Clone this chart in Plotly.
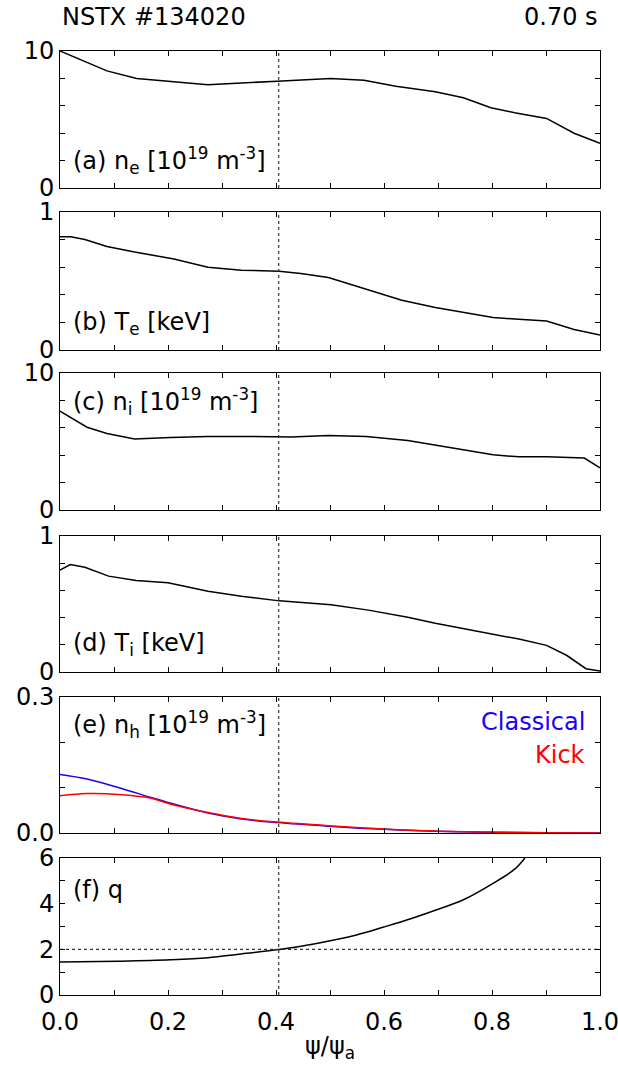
import plotly.graph_objects as go

# ---------------- data ----------------
ne_x = [0.0, 0.087, 0.142, 0.204, 0.274, 0.402, 0.501, 0.563, 0.622, 0.695, 0.747, 0.798, 0.842, 0.901, 0.952, 1.0]
ne_y = [10.0, 8.55, 7.99, 7.75, 7.53, 7.80, 7.99, 7.87, 7.43, 7.02, 6.59, 5.86, 5.50, 5.08, 4.0, 3.27]

te_x = [0.0, 0.02, 0.046, 0.087, 0.138, 0.211, 0.274, 0.336, 0.406, 0.446, 0.497, 0.563, 0.633, 0.695, 0.754, 0.802, 0.842, 0.901, 0.952, 1.0]
te_y = [0.82, 0.82, 0.80, 0.75, 0.71, 0.66, 0.60, 0.578, 0.571, 0.554, 0.525, 0.446, 0.361, 0.308, 0.270, 0.236, 0.224, 0.210, 0.149, 0.108]

ni_x = [0.0, 0.02, 0.05, 0.087, 0.138, 0.204, 0.274, 0.358, 0.428, 0.497, 0.567, 0.644, 0.695, 0.747, 0.802, 0.850, 0.901, 0.971, 1.0]
ni_y = [7.21, 6.72, 6.04, 5.58, 5.19, 5.29, 5.36, 5.36, 5.32, 5.44, 5.36, 5.07, 4.73, 4.42, 4.03, 3.88, 3.88, 3.79, 3.08]

ti_x = [0.0, 0.019, 0.046, 0.090, 0.141, 0.200, 0.274, 0.336, 0.406, 0.502, 0.571, 0.644, 0.695, 0.750, 0.802, 0.850, 0.901, 0.938, 0.974, 1.0]
ti_y = [0.75, 0.79, 0.77, 0.705, 0.673, 0.656, 0.593, 0.557, 0.523, 0.494, 0.455, 0.402, 0.358, 0.315, 0.278, 0.242, 0.196, 0.123, 0.024, 0.007]

nh_x = [0.0, 0.05, 0.109, 0.167, 0.204, 0.274, 0.336, 0.402, 0.497, 0.6, 0.695, 0.798, 0.9, 1.0]
nh_classical = [0.129, 0.119, 0.100, 0.079, 0.066, 0.044, 0.031, 0.023, 0.015, 0.008, 0.004, 0.0015, 0.0007, 0.0]
nh_kick = [0.082, 0.087, 0.085, 0.077, 0.064, 0.045, 0.032, 0.024, 0.016, 0.009, 0.0045, 0.002, 0.0008, 0.0]

q_x = [0.0, 0.109, 0.204, 0.274, 0.336, 0.406, 0.475, 0.549, 0.6, 0.651, 0.695, 0.747, 0.802, 0.842, 0.861]
q_y = [1.44, 1.48, 1.54, 1.63, 1.80, 1.99, 2.26, 2.63, 2.98, 3.35, 3.71, 4.17, 4.89, 5.51, 6.0]

q2_psi = 0.405      # location of q = 2 surface
q2_value = 2.0

x_tick_vals = [0.0, 0.1, 0.2, 0.3, 0.4, 0.5, 0.6, 0.7, 0.8, 0.9, 1.0]
x_tick_text = ["0.0", "", "0.2", "", "0.4", "", "0.6", "", "0.8", "", "1.0"]

panel_labels = [
    "(a) n<sub>e</sub> [10<sup>19</sup> m<sup>-3</sup>]",
    "(b) T<sub>e</sub> [keV]",
    "(c) n<sub>i</sub> [10<sup>19</sup> m<sup>-3</sup>]",
    "(d) T<sub>i</sub> [keV]",
    "(e) n<sub>h</sub> [10<sup>19</sup> m<sup>-3</sup>]",
    "(f) q",
]
label_ypos = [0.2, 0.19, 0.79, 0.2, 0.8, 0.77]

y_ranges = [[0, 10], [0, 1], [0, 10], [0, 1], [0, 0.3], [0, 6]]
y_tickvals = [
    [0, 2, 4, 6, 8, 10],
    [0, 0.2, 0.4, 0.6, 0.8, 1.0],
    [0, 2, 4, 6, 8, 10],
    [0, 0.2, 0.4, 0.6, 0.8, 1.0],
    [0, 0.1, 0.2, 0.3],
    [0, 1, 2, 3, 4, 5, 6],
]
y_ticktext = [
    ["0", "", "", "", "", "10"],
    ["0", "", "", "", "", "1"],
    ["0", "", "", "", "", "10"],
    ["0", "", "", "", "", "1"],
    ["0.0", "", "", "0.3"],
    ["0", "", "2", "", "4", "", "6"],
]

# ---------------- layout geometry ----------------
W, H = 618, 1071
ML, MR, MT, MB = 60, 18, 51, 76
plot_h = H - MT - MB
panel_px = [(51, 188), (212, 350), (373, 510), (536, 672), (697, 833), (858, 995)]
domains = [[(H - MB - b) / plot_h, (H - MB - t) / plot_h] for t, b in panel_px]

FONT = "DejaVu Sans, Liberation Sans, Arial, sans-serif"
FS = 24

fig = go.Figure()

series = [(ne_x, ne_y), (te_x, te_y), (ni_x, ni_y), (ti_x, ti_y)]
for i, (xs, ys) in enumerate(series):
    sfx = "" if i == 0 else str(i + 1)
    fig.add_trace(go.Scatter(x=xs, y=ys, mode="lines", line=dict(color="black", width=1.5),
                             xaxis="x" + sfx, yaxis="y" + sfx, showlegend=False))

fig.add_trace(go.Scatter(x=nh_x, y=nh_classical, mode="lines", line=dict(color="#1a00ff", width=1.5, shape="spline"),
                         xaxis="x5", yaxis="y5", showlegend=False))
fig.add_trace(go.Scatter(x=nh_x, y=nh_kick, mode="lines", line=dict(color="#ff0000", width=1.5, shape="spline"),
                         xaxis="x5", yaxis="y5", showlegend=False))
fig.add_trace(go.Scatter(x=q_x, y=q_y, mode="lines", line=dict(color="black", width=1.5, shape="spline"),
                         xaxis="x6", yaxis="y6", showlegend=False))
# q = 2 horizontal dotted reference
fig.add_trace(go.Scatter(x=[0, 1], y=[q2_value, q2_value], mode="lines",
                         line=dict(color="#333333", width=1.2, dash="dot"),
                         xaxis="x6", yaxis="y6", showlegend=False))
# vertical dotted line at q = 2 location in every panel
for i in range(6):
    sfx = "" if i == 0 else str(i + 1)
    fig.add_trace(go.Scatter(x=[q2_psi, q2_psi], y=y_ranges[i], mode="lines",
                             line=dict(color="#333333", width=1.2, dash="dot"),
                             xaxis="x" + sfx, yaxis="y" + sfx, showlegend=False))

layout = dict(
    width=W, height=H,
    margin=dict(l=ML, r=MR, t=MT, b=MB, autoexpand=False),
    paper_bgcolor="white", plot_bgcolor="white",
    font=dict(family=FONT, size=FS, color="black"),
    showlegend=False,
)

annotations = []
for i in range(6):
    sfx = "" if i == 0 else str(i + 1)
    xa = "xaxis" + sfx
    ya = "yaxis" + sfx
    layout[xa] = dict(
        domain=[0, 1], range=[0, 1], anchor="y" + sfx, automargin=False,
        showline=True, linecolor="black", linewidth=1, mirror="allticks",
        ticks="inside", ticklen=5, tickcolor="black", tickwidth=1,
        tickvals=x_tick_vals, ticktext=x_tick_text if i == 5 else [""] * len(x_tick_vals),
        showticklabels=(i == 5), showgrid=False, zeroline=False,
        tickfont=dict(size=FS), ticklabeloverflow="allow",
    )
    if i == 5:
        layout[xa]["title"] = dict(text="ψ/ψ<sub>a</sub>", font=dict(size=FS), standoff=2)
        layout[xa]["ticklabelstandoff"] = 5
    layout[ya] = dict(
        domain=domains[i], range=y_ranges[i], anchor="x" + sfx, automargin=False,
        showline=True, linecolor="black", linewidth=1, mirror="allticks",
        ticks="inside", ticklen=5, tickcolor="black", tickwidth=1,
        tickvals=y_tickvals[i], ticktext=y_ticktext[i],
        showgrid=False, zeroline=False, tickfont=dict(size=FS),
    )
    annotations.append(dict(
        text=panel_labels[i], xref=("x" + sfx + " domain"), yref=("y" + sfx + " domain"),
        x=0.02, y=label_ypos[i], xanchor="left", yanchor="middle", showarrow=False,
        font=dict(size=FS, color="black"),
    ))

annotations.append(dict(text="Classical", xref="x5 domain", yref="y5 domain", x=0.975, y=0.815,
                        xanchor="right", yanchor="middle", showarrow=False,
                        font=dict(size=FS, color="#1a00ff")))
annotations.append(dict(text="Kick", xref="x5 domain", yref="y5 domain", x=0.975, y=0.57,
                        xanchor="right", yanchor="middle", showarrow=False,
                        font=dict(size=FS, color="#ff0000")))
annotations.append(dict(text="NSTX #134020", xref="paper", yref="paper", x=0.0, y=1 + 34 / plot_h,
                        xanchor="left", yanchor="middle", showarrow=False, font=dict(size=FS)))
annotations.append(dict(text="0.70 s", xref="paper", yref="paper", x=1.0, y=1 + 34 / plot_h,
                        xanchor="right", yanchor="middle", showarrow=False, font=dict(size=FS)))
layout["annotations"] = annotations

fig.update_layout(**layout)
fig.write_html("out.html")
